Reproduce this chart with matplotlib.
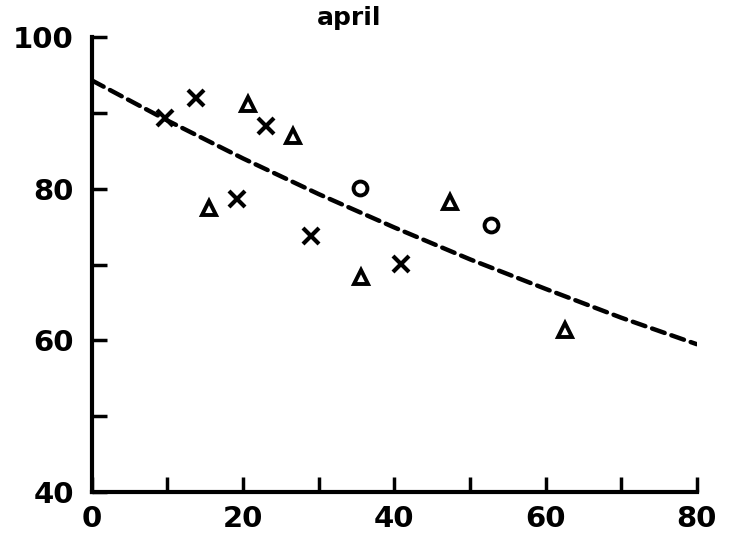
import matplotlib
matplotlib.use("Agg")
import matplotlib.pyplot as plt
import numpy as np

# Data
cross_x = [9.7, 13.8, 19.2, 23.0, 29.0, 40.9]
cross_y = [89.3, 92.0, 78.7, 88.3, 73.8, 70.1]

tri_x = [20.6, 26.6, 15.5, 35.6, 47.4, 62.6]
tri_y = [91.2, 87.0, 77.5, 68.3, 78.2, 61.4]

circ_x = [35.4, 52.8]
circ_y = [80.1, 75.2]

curve_x = [0, 10, 20, 30, 40, 50, 60, 70, 80]
curve_y = [94.3, 89.0, 84.0, 79.3, 74.9, 70.7, 66.8, 63.0, 59.5]

xticks_major = [0, 20, 40, 60, 80]
xticks_minor = [10, 30, 50, 70]
yticks_major = [40, 60, 80, 100]
yticks_minor = [50, 70, 90]
title = "april"

fig = plt.figure(figsize=(7.35, 5.47), dpi=100)
ax = fig.add_axes([0.125, 0.1005, 0.823, 0.8315])

ax.plot(curve_x, curve_y, color="black", lw=3.2, dashes=(3.0, 1.6),
        dash_capstyle="round")
ax.plot(cross_x, cross_y, linestyle="none", marker="x", ms=11, mew=3, color="black")
ax.plot(tri_x, tri_y, linestyle="none", marker="^", ms=10, mew=2.8, mfc="none", mec="black")
ax.plot(circ_x, circ_y, linestyle="none", marker="o", ms=10, mew=2.8, mfc="none", mec="black")

ax.set_xlim(0, 80)
ax.set_ylim(40, 100)
ax.set_xticks(xticks_major)
ax.set_xticks(xticks_minor, minor=True)
ax.set_yticks(yticks_major)
ax.set_yticks(yticks_minor, minor=True)

for s in ["top", "right"]:
    ax.spines[s].set_visible(False)
for s in ["left", "bottom"]:
    ax.spines[s].set_linewidth(3)

ax.tick_params(which="both", direction="in", length=11, width=2.5, color="black")
ax.tick_params(axis="x", which="both", pad=9)
ax.tick_params(axis="y", which="both", pad=13)
for lab in ax.get_xticklabels() + ax.get_yticklabels():
    lab.set_fontsize(21)
    lab.set_fontweight("bold")

ax.text(0.426, 1.026, title, transform=ax.transAxes, ha="center", va="baseline",
        fontsize=18, fontweight="bold")

fig.savefig("out.png", dpi=100)
